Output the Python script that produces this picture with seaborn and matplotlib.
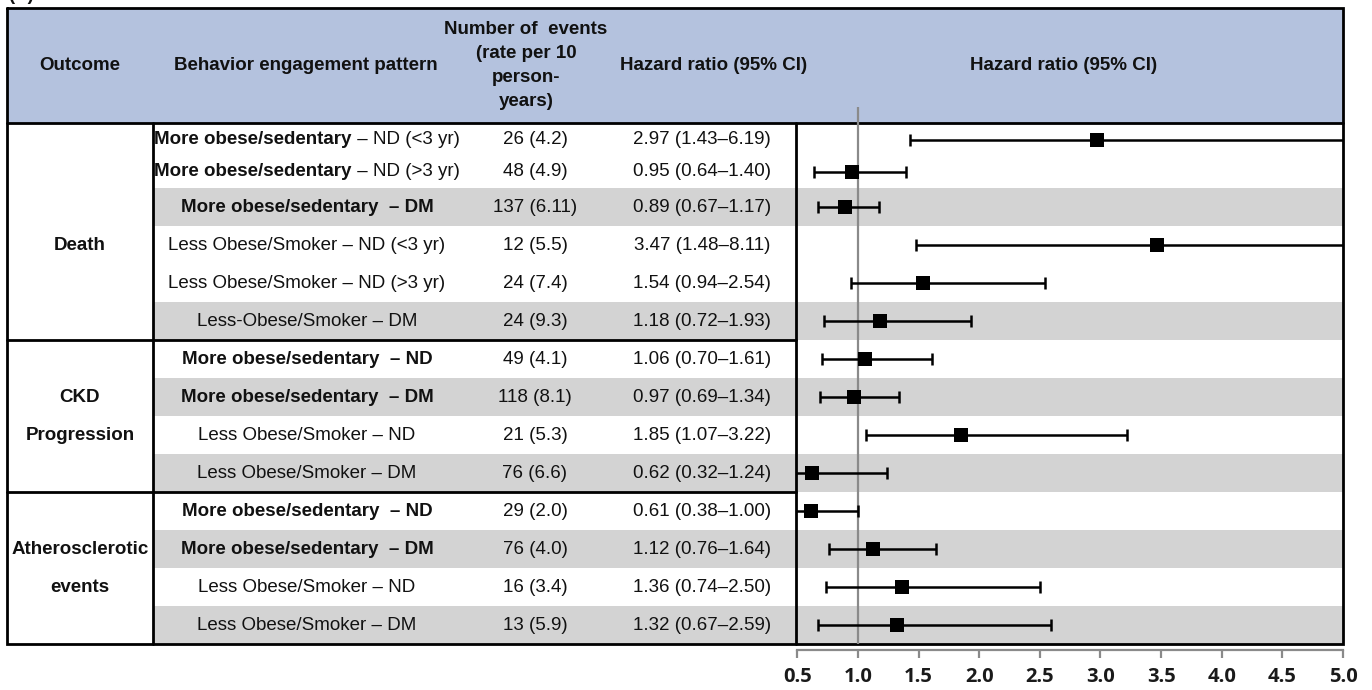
import numpy as np
import matplotlib
matplotlib.use("Agg")
import matplotlib.pyplot as plt
import seaborn as sns
from matplotlib.offsetbox import TextArea, HPacker, AnnotationBbox

# ---------------- data ----------------
outcomes = ["Death", "CKD\nProgression", "Atherosclerotic\nevents"]
group_sizes = [6, 4, 4]
behavior_bold = ["More obese/sedentary", "More obese/sedentary", "More obese/sedentary  – DM",
                 "", "", "",
                 "More obese/sedentary  – ND", "More obese/sedentary  – DM", "", "",
                 "More obese/sedentary  – ND", "More obese/sedentary  – DM", "", ""]
behavior_rest = [" – ND (<3 yr)", " – ND (>3 yr)", "",
                 "Less Obese/Smoker – ND (<3 yr)", "Less Obese/Smoker – ND (>3 yr)", "Less-Obese/Smoker – DM",
                 "", "", "Less Obese/Smoker – ND", "Less Obese/Smoker – DM",
                 "", "", "Less Obese/Smoker – ND", "Less Obese/Smoker – DM"]
events = ["26 (4.2)", "48 (4.9)", "137 (6.11)", "12 (5.5)", "24 (7.4)", "24 (9.3)",
          "49 (4.1)", "118 (8.1)", "21 (5.3)", "76 (6.6)",
          "29 (2.0)", "76 (4.0)", "16 (3.4)", "13 (5.9)"]
hr = [2.97, 0.95, 0.89, 3.47, 1.54, 1.18, 1.06, 0.97, 1.85, 0.62, 0.61, 1.12, 1.36, 1.32]
ci_low = [1.43, 0.64, 0.67, 1.48, 0.94, 0.72, 0.70, 0.69, 1.07, 0.32, 0.38, 0.76, 0.74, 0.67]
ci_high = [6.19, 1.40, 1.17, 8.11, 2.54, 1.93, 1.61, 1.34, 3.22, 1.24, 1.00, 1.64, 2.50, 2.59]
shaded = [False, False, True, False, False, True, False, True, False, True, False, True, False, True]
xticks = [0.5, 1.0, 1.5, 2.0, 2.5, 3.0, 3.5, 4.0, 4.5, 5.0]
xtick_labels = ["0.5", "1.0", "1.5", "2.0", "2.5", "3.0", "3.5", "4.0", "4.5", "5.0"]
header_outcome = "Outcome"
header_behavior = "Behavior engagement pattern"
header_events = ["Number of  events", "(rate per 10", "person-", "years)"]
header_hr = "Hazard ratio (95% CI)"
panel_label = "(A)"

# ---------------- style ----------------
sns.set_theme(style="white")
plt.rcParams["font.family"] = ["Liberation Sans", "DejaVu Sans"]

W, H = 1372, 690
fig = plt.figure(figsize=(W / 100, H / 100), dpi=100)
ax = fig.add_axes([0, 0, 1, 1])
ax.set_xlim(0, W)
ax.set_ylim(H, 0)
ax.axis("off")

HEADER_BLUE = "#B4C2DE"
BAND_GRAY = "#D3D3D3"
FS = 13.5
TXT = "#111111"

# layout (pixels)
x_left, x_right = 7, 1343
y_top, y_head = 8, 123
x_col1, x_col_forest = 153, 796
row_heights = [32, 32] + [38] * 12
row_edges = np.concatenate([[124], 124 + np.cumsum(row_heights)])
row_centers = (row_edges[:-1] + row_edges[1:]) / 2
y_bottom = row_edges[-1]

# header background
ax.add_patch(plt.Rectangle((x_left, y_top), x_right - x_left, y_head - y_top,
                           facecolor=HEADER_BLUE, edgecolor="none", zorder=0))
# shaded rows
for i, s in enumerate(shaded):
    if s:
        ax.add_patch(plt.Rectangle((x_col1, row_edges[i]), x_right - x_col1,
                                   row_edges[i + 1] - row_edges[i],
                                   facecolor=BAND_GRAY, edgecolor="none", zorder=0))

# borders
lw = 2.0
ax.plot([x_left, x_right, x_right, x_left, x_left], [y_top, y_top, y_bottom, y_bottom, y_top],
        color="black", lw=lw, zorder=2, solid_joinstyle="miter")
ax.plot([x_left, x_right], [y_head, y_head], color="black", lw=lw, zorder=2)
ax.plot([x_col1, x_col1], [y_head, y_bottom], color="black", lw=lw, zorder=2)
ax.plot([x_col_forest, x_col_forest], [y_head, y_bottom], color="black", lw=lw, zorder=2)
start = 0
for gs in group_sizes[:-1]:
    start += gs
    ax.plot([x_left, x_col_forest], [row_edges[start], row_edges[start]], color="black", lw=lw, zorder=2)

# header text
hy = 65
ax.text(80, hy, header_outcome, ha="center", va="center", fontsize=FS, weight="bold", color=TXT)
ax.text(306, hy, header_behavior, ha="center", va="center", fontsize=FS, weight="bold", color=TXT)
for k, line in enumerate(header_events):
    ax.text(526, 30 + 24 * k, line, ha="center", va="center", fontsize=FS, weight="bold", color=TXT)
ax.text(714, hy, header_hr, ha="center", va="center", fontsize=FS, weight="bold", color=TXT)
ax.text(1064, hy, header_hr, ha="center", va="center", fontsize=FS, weight="bold", color=TXT)
ax.text(8, -5, panel_label, ha="left", va="center", fontsize=FS, weight="bold", color=TXT)

# outcome labels
start = 0
for name, gs in zip(outcomes, group_sizes):
    lines = name.split("\n")
    first = start + (gs - len(lines) + 1) // 2
    for k, line in enumerate(lines):
        ax.text(80, row_centers[first + k], line, ha="center", va="center",
                fontsize=FS, weight="bold", color=TXT)
    start += gs

# body rows
for i in range(len(hr)):
    y = row_centers[i]
    parts = []
    if behavior_bold[i]:
        parts.append(TextArea(behavior_bold[i], textprops=dict(fontsize=FS, weight="bold", color=TXT)))
    if behavior_rest[i]:
        parts.append(TextArea(behavior_rest[i], textprops=dict(fontsize=FS, color=TXT)))
    box = HPacker(children=parts, align="baseline", pad=0, sep=0)
    ab = AnnotationBbox(box, (307, y), xycoords="data", frameon=False,
                        box_alignment=(0.5, 0.5), pad=0, zorder=3)
    ax.add_artist(ab)
    ax.text(535, y, events[i], ha="center", va="center", fontsize=FS, color=TXT)
    ax.text(702, y, f"{hr[i]:.2f} ({ci_low[i]:.2f}–{ci_high[i]:.2f})", ha="center",
            va="center", fontsize=FS, color=TXT)

# ---------------- forest panel ----------------
y_axis = 650
y_ref_top = 107
axf = fig.add_axes([x_col_forest / W, (H - y_axis) / H, (x_right - x_col_forest) / W,
                    (y_axis - y_ref_top) / H])
axf.patch.set_alpha(0)
axf.set_xlim(0.489, 5.0)
axf.set_ylim(y_axis, y_ref_top)

hr_a = np.array(hr)
lo_a = np.array(ci_low)
hi_a = np.array(ci_high)
ys = row_centers

axf.vlines(1.0, y_ref_top, y_bottom, color="#8a8a8a", lw=1.6, zorder=1)
axf.errorbar(hr_a, ys, xerr=[hr_a - lo_a, hi_a - hr_a], fmt="none", ecolor="black",
             elinewidth=1.8, capsize=4.5, capthick=1.8, zorder=2)
sns.scatterplot(x=hr_a, y=ys, marker="s", s=92, color="black", edgecolor="black",
                linewidth=0, ax=axf, zorder=3, legend=False)

for side in ["top", "left", "right"]:
    axf.spines[side].set_visible(False)
axf.spines["bottom"].set_bounds(0.5, 5.0)
axf.spines["bottom"].set_color("#8a8a8a")
axf.spines["bottom"].set_linewidth(1.6)
axf.set_xticks(xticks)
axf.set_xticklabels(xtick_labels, fontsize=14.5, fontweight="bold", color="#1a1a1a",
                    family=["Open Sans", "DejaVu Sans"])
axf.tick_params(axis="x", direction="out", length=6, width=1.6, color="#8a8a8a", pad=6, bottom=True)
axf.set_yticks([])
axf.set_xlabel("")
axf.set_ylabel("")
axf.grid(False)

fig.savefig("out.png", dpi=100)
